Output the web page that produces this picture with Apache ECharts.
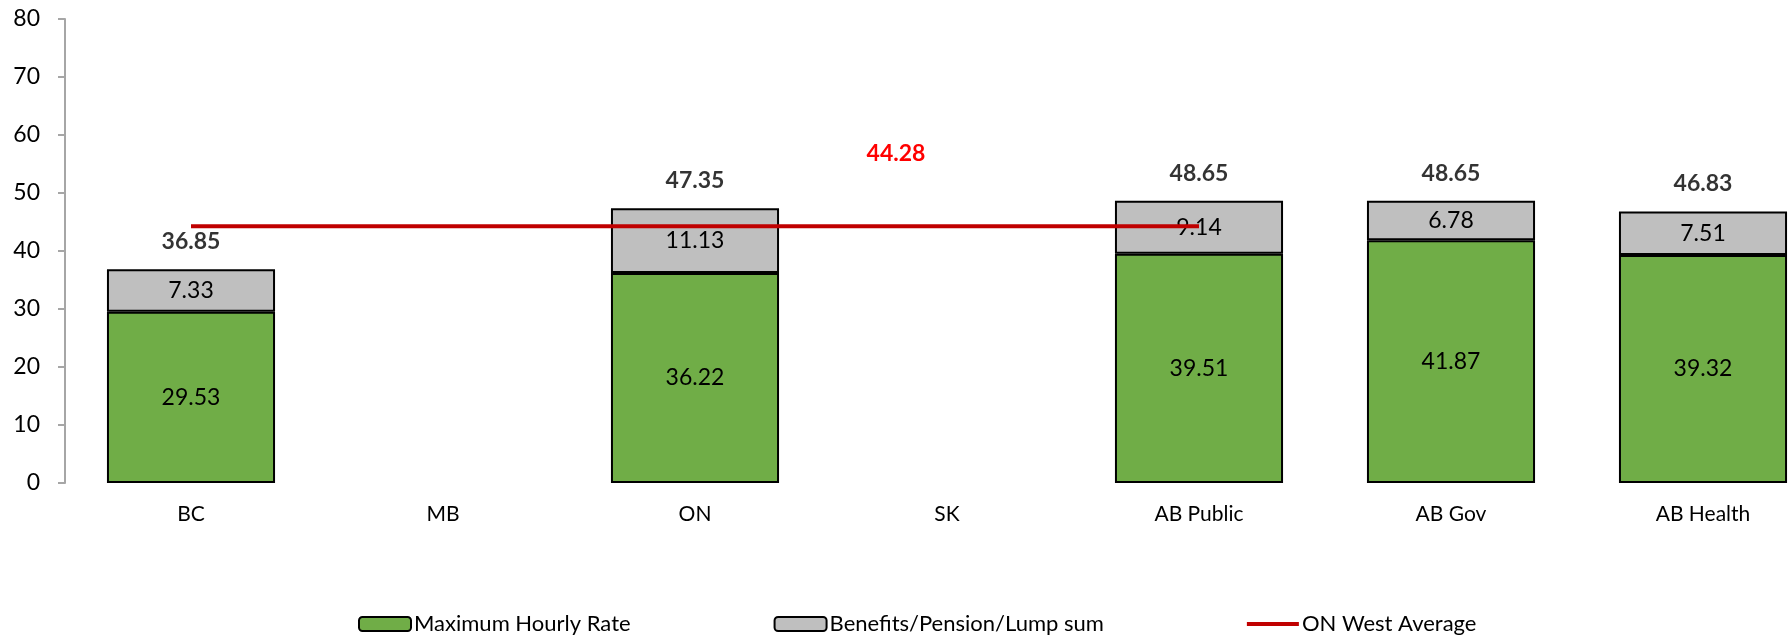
<!DOCTYPE html>
<html>
<head>
<meta charset="utf-8">
<script src="https://cdn.jsdelivr.net/npm/echarts@6/dist/echarts.min.js"></script>
<style>
  html, body { margin: 0; padding: 0; background: #fff; }
  #chart { width: 1788px; height: 636px; }
</style>
</head>
<body>
<div id="chart"></div>
<script>
// categories and values
var categories = ['BC', 'MB', 'ON', 'SK', 'AB Public', 'AB Gov', 'AB Health'];
var hourlyRate = [29.53, null, 36.22, null, 39.51, 41.87, 39.32];
var benefits = [7.33, null, 11.13, null, 9.14, 6.78, 7.51];
var totals = [36.85, null, 47.35, null, 48.65, 48.65, 46.83];
var westAverage = [44.28, 44.28, 44.28, 44.28, 44.28, null, null];
var yTicks = [0, 10, 20, 30, 40, 50, 60, 70, 80];

var chart = echarts.init(document.getElementById('chart'));
var font = 'Lato';

var option = {
  backgroundColor: '#fff',
  animation: false,
  textStyle: { fontFamily: font },
  // the last bar runs off the right edge in the original
  grid: { left: 65, top: 19, width: 1764, height: 464, outerBoundsMode: 'none', containLabel: false },
  legend: {
    data: [
      'Maximum Hourly Rate',
      'Benefits/Pension/Lump sum',
      { name: 'ON West Average', icon: 'path://M0,0h52v4h-52z' }
    ],
    left: 353,
    top: 608,
    itemWidth: 52,
    itemHeight: 14,
    itemGap: 143,
    textStyle: { fontFamily: font, fontSize: 22, color: '#000', padding: [0, 0, 0, -2] }
  },
  xAxis: {
    type: 'category',
    data: categories,
    axisLine: { show: false },
    axisTick: { show: false },
    axisLabel: { fontFamily: font, fontSize: 21, color: '#000', margin: 21 }
  },
  yAxis: {
    type: 'value',
    min: yTicks[0],
    max: yTicks[yTicks.length - 1],
    interval: 10,
    splitLine: { show: false },
    axisLine: { show: true, lineStyle: { color: '#A6A6A6', width: 2 } },
    axisTick: { show: true, length: 7, lineStyle: { color: '#A6A6A6', width: 2 } },
    axisLabel: { fontFamily: font, fontSize: 23, color: '#000', margin: 25 }
  },
  series: [
    {
      name: 'Maximum Hourly Rate',
      type: 'bar',
      stack: 'pay',
      barCategoryGap: '33.3%',
      data: hourlyRate,
      itemStyle: { color: '#70AD47', borderColor: '#000', borderWidth: 2 },
      label: {
        show: true, position: 'inside', color: '#000',
        fontFamily: font, fontSize: 23,
        formatter: function (p) { return p.value.toFixed(2); }
      }
    },
    {
      name: 'Benefits/Pension/Lump sum',
      type: 'bar',
      stack: 'pay',
      data: benefits,
      itemStyle: { color: '#BFBFBF', borderColor: '#000', borderWidth: 2 },
      label: {
        show: true, position: 'inside', color: '#000',
        fontFamily: font, fontSize: 23,
        formatter: function (p) { return p.value.toFixed(2); }
      }
    },
    {
      name: 'ON West Average',
      type: 'line',
      data: westAverage,
      symbol: 'circle',
      symbolSize: 0,
      showSymbol: true,
      z: 5,
      lineStyle: { color: '#C00000', width: 4 },
      itemStyle: { color: '#C00000' },
      label: {
        show: true,
        position: 'top',
        offset: [-51, -56],
        color: '#FF0000',
        fontWeight: 'bold',
        fontFamily: font,
        fontSize: 23,
        formatter: function (p) { return p.dataIndex === 3 ? p.value.toFixed(2) : ''; }
      }
    },
    {
      name: 'Total',
      type: 'scatter',
      data: totals,
      symbolSize: 0,
      z: 6,
      label: {
        show: true,
        position: 'top',
        distance: 16,
        color: '#000',
        fontWeight: 'bold',
        fontFamily: font,
        fontSize: 23,
        formatter: function (p) { return p.value == null ? '' : p.value.toFixed(2); }
      }
    }
  ]
};

chart.setOption(option);
</script>
</body>
</html>
